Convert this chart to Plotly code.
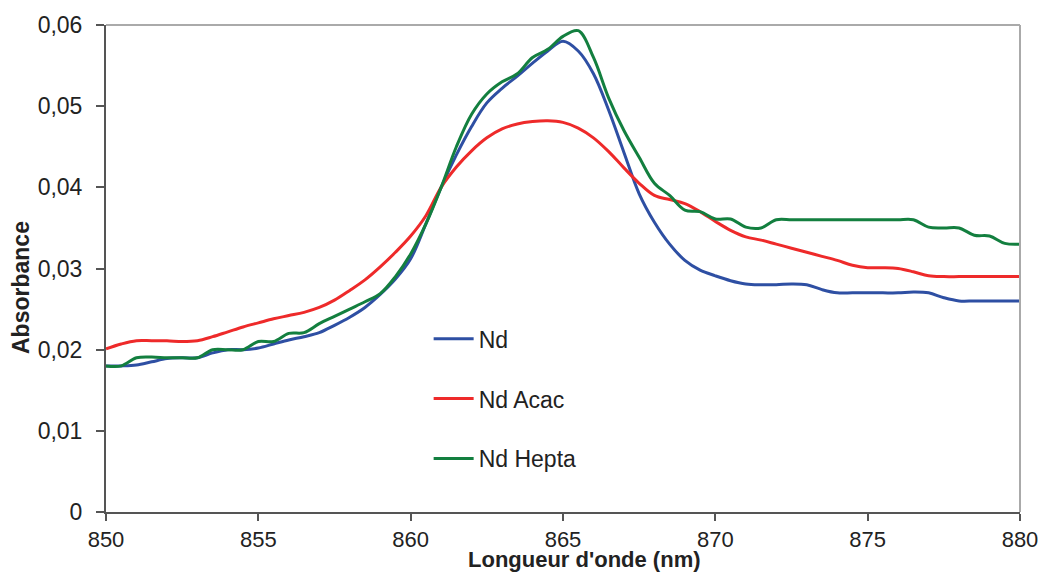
import numpy as np
import plotly.graph_objects as go

wavelength = [850 + 0.5 * i for i in range(61)]

nd = [0.0180, 0.0180, 0.0181, 0.0185, 0.0189, 0.0190, 0.0190, 0.0196, 0.0200, 0.0200,
      0.0202, 0.0207, 0.0212, 0.0216, 0.0221, 0.0230, 0.0240, 0.0252, 0.0268, 0.0287,
      0.0312, 0.0355, 0.0400, 0.0440, 0.0475, 0.0504, 0.0522, 0.0537, 0.0553, 0.0568,
      0.0580, 0.0568, 0.0540, 0.0495, 0.0443, 0.0392, 0.0357, 0.0330, 0.0310, 0.0298,
      0.0291, 0.0285, 0.0281, 0.0280, 0.0280, 0.0281, 0.0280, 0.0274, 0.0270, 0.0270,
      0.0270, 0.0270, 0.0270, 0.0271, 0.0270, 0.0264, 0.0260, 0.0260, 0.0260, 0.0260,
      0.0260]

nd_acac = [0.0201, 0.0207, 0.0211, 0.0211, 0.0211, 0.0210, 0.0211, 0.0216, 0.0222, 0.0228,
           0.0233, 0.0238, 0.0242, 0.0246, 0.0252, 0.0261, 0.0273, 0.0286, 0.0302, 0.0320,
           0.0340, 0.0365, 0.0400, 0.0425, 0.0445, 0.0461, 0.0472, 0.0478, 0.0481, 0.0482,
           0.0480, 0.0473, 0.0461, 0.0444, 0.0424, 0.0405, 0.0390, 0.0385, 0.0380, 0.0370,
           0.0358, 0.0347, 0.0339, 0.0335, 0.0330, 0.0325, 0.0320, 0.0315, 0.0310, 0.0304,
           0.0301, 0.0301, 0.0300, 0.0296, 0.0291, 0.0290, 0.0290, 0.0290, 0.0290, 0.0290,
           0.0290]

nd_hepta = [0.0180, 0.0180, 0.0190, 0.0191, 0.0190, 0.0190, 0.0190, 0.0200, 0.0200, 0.0200,
            0.0210, 0.0210, 0.0220, 0.0221, 0.0232, 0.0241, 0.0250, 0.0259, 0.0269, 0.0290,
            0.0318, 0.0355, 0.0400, 0.0450, 0.0490, 0.0515, 0.0530, 0.0540, 0.0560, 0.0570,
            0.0586, 0.0593, 0.0560, 0.0510, 0.0470, 0.0437, 0.0405, 0.0390, 0.0372, 0.0370,
            0.0361, 0.0361, 0.0351, 0.0350, 0.0360, 0.0360, 0.0360, 0.0360, 0.0360, 0.0360,
            0.0360, 0.0360, 0.0360, 0.0360, 0.0351, 0.0350, 0.0350, 0.0341, 0.0340, 0.0331,
            0.0330]

series = [("Nd", nd, "#2E4FA3"), ("Nd Acac", nd_acac, "#EE2A2A"), ("Nd Hepta", nd_hepta, "#137F3F")]

x_title = "Longueur d'onde (nm)"
y_title = "Absorbance"

font_family = "Liberation Sans, Arial, sans-serif"

fig = go.Figure()
for i, (name, vals, color) in enumerate(series):
    fig.add_trace(go.Scatter(
        x=wavelength, y=vals, name=name, mode="lines",
        line=dict(color=color, width=3, shape="spline", smoothing=1.0),
        legendgroup=f"g{i}",
    ))

fig.update_layout(
    width=1042, height=572,
    margin=dict(l=106, r=22, t=25, b=60, autoexpand=False),
    paper_bgcolor="white", plot_bgcolor="white",
    separators=", ",
    font=dict(family=font_family, size=23, color="#222"),
    showlegend=True,
    legend=dict(x=0.353, y=0.40, xanchor="left", yanchor="top",
                bgcolor="rgba(0,0,0,0)", font=dict(size=23, color="#222"),
                tracegroupgap=27, itemwidth=40),
    xaxis=dict(range=[850, 880], dtick=5, tick0=850, showgrid=False, zeroline=False,
               showline=True, linecolor="#555", linewidth=2, automargin=False,
               ticks="outside", ticklen=7, tickcolor="#555", tickwidth=1.5,
               tickfont=dict(size=22)),
    yaxis=dict(range=[0, 0.06], dtick=0.01, tick0=0, showgrid=False, zeroline=False,
               showline=True, linecolor="#555", linewidth=2, automargin=False,
               ticks="outside", ticklen=8, tickcolor="#555", tickwidth=1.5,
               tickfont=dict(size=23), ticklabelstandoff=9),
)

fig.add_annotation(text=f"<b>{x_title}</b>", xref="paper", yref="paper",
                   x=0.523, y=-0.098, xanchor="center", yanchor="middle",
                   showarrow=False, font=dict(size=22, color="#222"))
fig.add_annotation(text=f"<b>{y_title}</b>", xref="paper", yref="paper",
                   x=-0.093, y=0.462, xanchor="center", yanchor="middle", textangle=-90,
                   showarrow=False, font=dict(size=23, color="#222"))

fig.add_shape(type="line", xref="paper", yref="paper", x0=0, x1=1, y0=1, y1=1,
              line=dict(color="#AAAAAA", width=2))
fig.add_shape(type="line", xref="paper", yref="paper", x0=1, x1=1, y0=0, y1=1,
              line=dict(color="#AAAAAA", width=2))

fig.write_html("out.html",
               config={"displayModeBar": False},
               post_script="document.body.style.margin='0';document.body.style.overflow='hidden';")
